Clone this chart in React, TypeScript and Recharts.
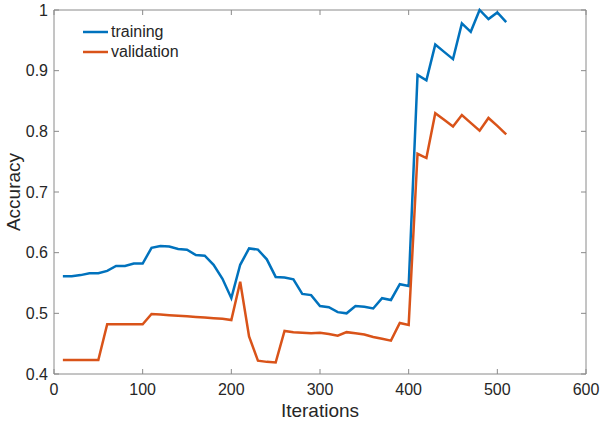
import React from 'react';
import { LineChart, Line, XAxis, YAxis, Legend, ReferenceLine } from 'recharts';

// values (one point every 10 iterations)
const iterations = [
  10, 20, 30, 40, 50, 60, 70, 80, 90, 100,
  110, 120, 130, 140, 150, 160, 170, 180, 190, 200,
  210, 220, 230, 240, 250, 260, 270, 280, 290, 300,
  310, 320, 330, 340, 350, 360, 370, 380, 390, 400,
  410, 420, 430, 440, 450, 460, 470, 480, 490, 500, 510
];

const training = [
  0.561, 0.561, 0.563, 0.566, 0.566, 0.570, 0.578, 0.578, 0.582, 0.582,
  0.608, 0.611, 0.610, 0.606, 0.605, 0.596, 0.595, 0.580, 0.557, 0.525,
  0.580, 0.607, 0.605, 0.589, 0.560, 0.559, 0.556, 0.532, 0.530, 0.512,
  0.510, 0.502, 0.500, 0.512, 0.511, 0.508, 0.525, 0.522, 0.548, 0.545,
  0.893, 0.884, 0.943, 0.931, 0.919, 0.978, 0.964, 1.0, 0.985, 0.996, 0.980
];

const validation = [
  0.423, 0.423, 0.423, 0.423, 0.423, 0.482, 0.482, 0.482, 0.482, 0.482,
  0.499, 0.498, 0.497, 0.496, 0.495, 0.494, 0.493, 0.492, 0.491, 0.489,
  0.552, 0.462, 0.422, 0.420, 0.419, 0.471, 0.469, 0.468, 0.467, 0.468,
  0.466, 0.463, 0.469, 0.467, 0.465, 0.461, 0.458, 0.455, 0.484, 0.481,
  0.763, 0.756, 0.830, 0.819, 0.808, 0.827, 0.814, 0.801, 0.822, 0.809, 0.795
];

const xTicks = [0, 100, 200, 300, 400, 500, 600];
const yTicks = [0.4, 0.5, 0.6, 0.7, 0.8, 0.9, 1];

const BLUE = '#0072BD';
const ORANGE = '#D95319';
const AXIS = '#8a8a8a';
const TEXT = '#262626';
const FONT = '"Liberation Sans", Arial, sans-serif';

const W = 600;
const H = 423;
const LEFT = 54;
const RIGHT = 586;
const TOP = 10;
const BOTTOM = 374;
const TICK = 5;

const data = iterations.map((it, i) => ({
  iter: it,
  training: training[i],
  validation: validation[i]
}));

const fmtY = (v: number) => String(Number(v.toFixed(1)));

const BottomTick = (props: any) => (
  <text x={props.x} y={BOTTOM + 21} textAnchor="middle" fill={TEXT} fontSize={16} fontFamily={FONT}>
    {props.payload.value}
  </text>
);

const LeftTick = (props: any) => (
  <text x={LEFT - 6} y={props.y} dy="0.35em" textAnchor="end" fill={TEXT} fontSize={16} fontFamily={FONT}>
    {fmtY(props.payload.value)}
  </text>
);

// inward tick marks at both ends of a gridline position (matlab style box)
const VTicks = (props: any) => {
  const { x1, y1, y2 } = props;
  const top = Math.min(y1, y2);
  const bot = Math.max(y1, y2);
  return (
    <g>
      <line x1={x1} x2={x1} y1={top} y2={top + TICK} stroke={AXIS} />
      <line x1={x1} x2={x1} y1={bot} y2={bot - TICK} stroke={AXIS} />
    </g>
  );
};

const HTicks = (props: any) => {
  const { x1, x2, y1 } = props;
  const l = Math.min(x1, x2);
  const r = Math.max(x1, x2);
  return (
    <g>
      <line x1={l} x2={l + TICK} y1={y1} y2={y1} stroke={AXIS} />
      <line x1={r} x2={r - TICK} y1={y1} y2={y1} stroke={AXIS} />
    </g>
  );
};

const renderLegend = (props: any) => {
  const { payload } = props;
  return (
    <div style={{ fontFamily: FONT, fontSize: 16, color: TEXT }}>
      {payload.map((p: any) => (
        <div key={p.value} style={{ display: 'flex', alignItems: 'center', height: 20 }}>
          <svg width={27} height={6} style={{ marginRight: 1 }}>
            <line x1={0} x2={25} y1={3} y2={3} stroke={p.color} strokeWidth={2.5} />
          </svg>
          <span>{p.value}</span>
        </div>
      ))}
    </div>
  );
};

export default function App() {
  return (
    <div style={{ position: 'absolute', left: 0, top: 0, width: W, height: H, background: '#fff' }}>
      <LineChart
        width={W}
        height={H}
        data={data}
        margin={{ top: TOP, right: W - RIGHT, left: 0, bottom: 0 }}
      >
        <XAxis
          dataKey="iter"
          type="number"
          domain={[0, 600]}
          ticks={xTicks}
          height={H - BOTTOM}
          tickLine={false}
          axisLine={{ stroke: AXIS }}
          tick={<BottomTick />}
          interval={0}
          label={{
            value: 'Iterations',
            position: 'insideBottom',
            offset: 6,
            fill: TEXT,
            fontSize: 19,
            fontFamily: FONT
          }}
        />
        <YAxis
          type="number"
          domain={[0.4, 1]}
          ticks={yTicks}
          width={LEFT}
          tickLine={false}
          axisLine={{ stroke: AXIS }}
          tick={<LeftTick />}
          interval={0}
          label={{
            value: 'Accuracy',
            angle: -90,
            position: 'insideLeft',
            offset: 13,
            fill: TEXT,
            fontSize: 19,
            fontFamily: FONT,
            style: { textAnchor: 'middle' }
          }}
        />
        <ReferenceLine y={1} stroke={AXIS} />
        <ReferenceLine x={600} stroke={AXIS} />
        {xTicks.map((t) => (
          <ReferenceLine key={'x' + t} x={t} shape={<VTicks />} />
        ))}
        {yTicks.map((t) => (
          <ReferenceLine key={'y' + t} y={t} shape={<HTicks />} />
        ))}
        <Legend
          layout="vertical"
          align="center"
          verticalAlign="middle"
          content={renderLegend}
          wrapperStyle={{ left: 83, top: 22, width: 'auto', height: 'auto' }}
        />
        <Line
          type="linear"
          dataKey="training"
          name="training"
          stroke={BLUE}
          strokeWidth={2.5}
          dot={false}
          isAnimationActive={false}
        />
        <Line
          type="linear"
          dataKey="validation"
          name="validation"
          stroke={ORANGE}
          strokeWidth={2.5}
          dot={false}
          isAnimationActive={false}
        />
      </LineChart>
    </div>
  );
}
